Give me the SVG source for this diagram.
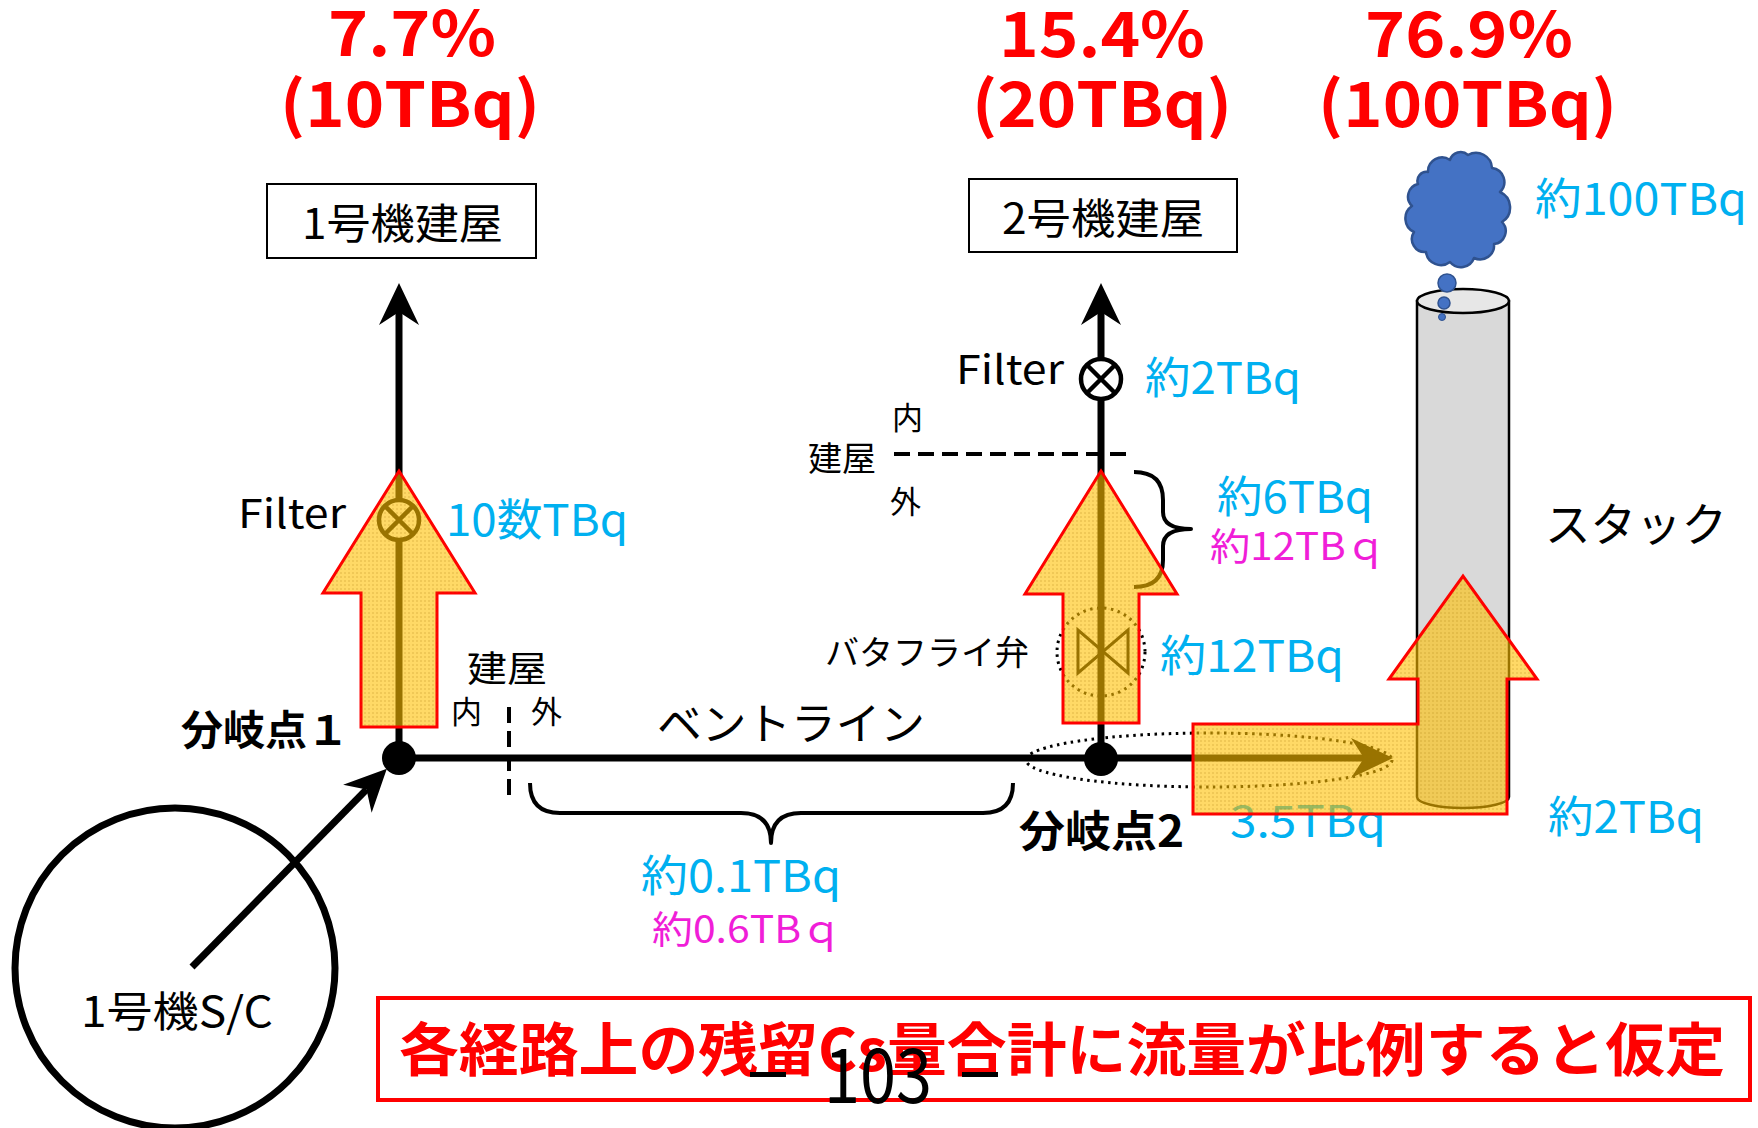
<svg xmlns="http://www.w3.org/2000/svg" width="1758" height="1128" viewBox="0 0 1758 1128">
  <style>
    text { font-family: "Noto Sans CJK JP", "Liberation Sans", sans-serif; }
    .pct { fill: #FF0000; font-weight: bold; font-size: 62px; }
    .blk { fill: #000000; }
    .blue { fill: #00B0F0; }
    .mag { fill: #F01ED8; }
    .bold { font-weight: bold; }
    .pipe { stroke: #000; stroke-width: 7; fill: none; }
    .dash { stroke: #000; stroke-width: 4; stroke-dasharray: 16 8; fill: none; }
    .brace { stroke: #000; stroke-width: 4; fill: none; stroke-linejoin: round; }
    .dotted { stroke: #000; stroke-width: 3; stroke-dasharray: 2.5 4.5; fill: none; }
    .flow { fill: #FFC000; fill-opacity: 0.6; stroke: #FF0000; stroke-width: 3; stroke-linejoin: miter; }
    .tex { fill: url(#dots); stroke: none; }
    .box { fill: #FFFFFF; stroke: #000; stroke-width: 2; }
  </style>
  <defs>
    <marker id="ah" markerUnits="userSpaceOnUse" viewBox="-44 -22 46 44" markerWidth="46" markerHeight="44" refX="-29" refY="0" orient="auto">
      <path d="M0,0 L-42,-20 L-29,0 L-42,20 Z" fill="#000"/>
    </marker>
    <pattern id="dots" width="4" height="4" patternUnits="userSpaceOnUse">
      <rect width="2" height="2" fill="#A07000" opacity="0.16"/>
    </pattern>
    <!-- translucent flow arrows -->
    <polygon id="flow1" points="399,471 475,593 437,593 437,727 361,727 361,593 323,593"/>
    <polygon id="flow2" points="1101,471 1177,594 1139,594 1139,723 1063,723 1063,594 1025,594"/>
    <polygon id="flow3" points="1193,724 1418,724 1418,679 1389,679 1463,576 1537,679 1507,679 1507,814 1193,814"/>
  </defs>

  <rect width="1758" height="1128" fill="#FFFFFF"/>

  <!-- release shares -->
  <g id="share-unit1">
    <text class="pct" x="328" y="56" textLength="168" lengthAdjust="spacingAndGlyphs">7.7%</text>
    <text class="pct" x="280" y="127" textLength="260" lengthAdjust="spacingAndGlyphs">(10TBq)</text>
  </g>
  <g id="share-unit2">
    <text class="pct" x="999" y="57" textLength="206" lengthAdjust="spacingAndGlyphs">15.4%</text>
    <text class="pct" x="972" y="127" textLength="260" lengthAdjust="spacingAndGlyphs">(20TBq)</text>
  </g>
  <g id="share-stack">
    <text class="pct" x="1365" y="57" textLength="208" lengthAdjust="spacingAndGlyphs">76.9%</text>
    <text class="pct" x="1318" y="127" textLength="299" lengthAdjust="spacingAndGlyphs">(100TBq)</text>
  </g>

  <!-- buildings -->
  <g id="bldg1">
    <rect class="box" x="267" y="184" width="269" height="74"/>
    <text class="blk" x="302" y="239" font-size="42" textLength="201" lengthAdjust="spacingAndGlyphs">1号機建屋</text>
  </g>
  <g id="bldg2">
    <rect class="box" x="969" y="179" width="268" height="73"/>
    <text class="blk" x="1002" y="234" font-size="42" textLength="202" lengthAdjust="spacingAndGlyphs">2号機建屋</text>
  </g>

  <!-- stack with plume -->
  <g id="stack">
    <path d="M1417,301 L1417,797 A46,11 0 0 0 1509,797 L1509,301 Z" fill="#D9D9D9" stroke="#000" stroke-width="2.5"/>
    <ellipse cx="1463" cy="301" rx="46" ry="12" fill="#E7E7E7" stroke="#000" stroke-width="2.5"/>
    <text class="blk" x="1545" y="541" font-size="46" textLength="182" lengthAdjust="spacingAndGlyphs">スタック</text>
  </g>
  <g id="plume">
    <path d="M1428,172 A14,14 0 0 1 1450,160 A11,11 0 0 1 1468,155 A16,16 0 0 1 1492,168 A14,14 0 0 1 1500,192 A17,17 0 0 1 1502,222 A13,13 0 0 1 1494,244 A14,14 0 0 1 1474,258 A14,14 0 0 1 1450,262 A15,15 0 0 1 1426,252 A13,13 0 0 1 1414,232 A15,15 0 0 1 1412,206 A13,13 0 0 1 1418,184 A9,9 0 0 1 1428,172 Z" fill="#4472C4" stroke="#2F528F" stroke-width="2.5" stroke-linejoin="round"/>
    <circle cx="1447" cy="283" r="9" fill="#4472C4" stroke="#2F528F" stroke-width="1.5"/>
    <circle cx="1444" cy="303" r="6" fill="#4472C4" stroke="#2F528F" stroke-width="1.5"/>
    <circle cx="1442" cy="317" r="3.5" fill="#4472C4" stroke="#2F528F" stroke-width="1"/>
    <text class="blue" x="1535" y="215" font-size="44" textLength="212" lengthAdjust="spacingAndGlyphs">約100TBq</text>
  </g>

  <!-- pipes, boundaries and braces -->
  <g id="connectors">
    <line class="pipe" x1="399" y1="758" x2="399" y2="312" marker-end="url(#ah)"/>
    <line class="pipe" x1="1101" y1="759" x2="1101" y2="312" marker-end="url(#ah)"/>
    <line class="pipe" x1="399" y1="758" x2="1364" y2="758" marker-end="url(#ah)"/>
    <line class="pipe" x1="192" y1="967" x2="366.5" y2="789.5" marker-end="url(#ah)"/>
    <line class="dash" x1="509" y1="707" x2="509" y2="802"/>
    <line class="dash" x1="894" y1="454" x2="1128" y2="454"/>
    <path class="brace" d="M530,783 Q530,813 560,813 L741,813 Q771,813 771,843 Q771,813 801,813 L983,813 Q1013,813 1013,783"/>
    <path class="brace" d="M1134,472 Q1163,472 1163,500 L1163,512 Q1163,529 1191,529 Q1163,529 1163,546 L1163,560 Q1163,587 1134,587"/>
    <ellipse class="dotted" cx="1209" cy="760" rx="183" ry="27"/>
  </g>

  <!-- suppression chamber -->
  <g id="sc">
    <circle cx="175" cy="968" r="160" fill="none" stroke="#000" stroke-width="7"/>
    <text class="blk" x="81" y="1027" font-size="42" textLength="192" lengthAdjust="spacingAndGlyphs">1号機S/C</text>
  </g>

  <!-- filters, valve, branch points -->
  <g id="filter1">
    <circle cx="399" cy="520" r="20" fill="#FFFFFF" stroke="#000" stroke-width="4.5"/>
    <path d="M385,506 L413,534 M413,506 L385,534" stroke="#000" stroke-width="4.5"/>
  </g>
  <g id="filter2">
    <circle cx="1101" cy="379" r="20" fill="#FFFFFF" stroke="#000" stroke-width="4.5"/>
    <path d="M1087,365 L1115,393 M1115,365 L1087,393" stroke="#000" stroke-width="4.5"/>
  </g>
  <g id="valve">
    <circle class="dotted" cx="1101" cy="652" r="44"/>
    <path d="M1078,630 L1078,673 L1128,630 L1128,673 Z" fill="none" stroke="#000" stroke-width="3"/>
  </g>
  <g id="branch1">
    <circle cx="399" cy="758" r="17" fill="#000"/>
  </g>
  <g id="branch2">
    <circle cx="1101" cy="759" r="17" fill="#000"/>
  </g>

  <text class="blue" x="1230" y="837" font-size="44" textLength="156" lengthAdjust="spacingAndGlyphs">3.5TBq</text>

  <!-- flow arrows -->
  <g id="flows">
    <use href="#flow1" class="flow"/><use href="#flow1" class="tex"/>
    <use href="#flow2" class="flow"/><use href="#flow2" class="tex"/>
    <use href="#flow3" class="flow"/><use href="#flow3" class="tex"/>
  </g>

  <!-- labels -->
  <g id="labels">
    <text class="blk" x="238" y="528" font-size="40" textLength="108" lengthAdjust="spacingAndGlyphs">Filter</text>
    <text class="blue" x="446" y="536" font-size="44" textLength="182" lengthAdjust="spacingAndGlyphs">10数TBq</text>
    <text class="blk" x="956" y="384" font-size="40" textLength="108" lengthAdjust="spacingAndGlyphs">Filter</text>
    <text class="blue" x="1145" y="394" font-size="44" textLength="156" lengthAdjust="spacingAndGlyphs">約2TBq</text>
    <text class="blk" x="892" y="429" font-size="31">内</text>
    <text class="blk" x="808" y="471" font-size="34" textLength="68" lengthAdjust="spacingAndGlyphs">建屋</text>
    <text class="blk" x="890" y="513" font-size="31">外</text>
    <text class="blue" x="1217" y="513" font-size="44" textLength="156" lengthAdjust="spacingAndGlyphs">約6TBq</text>
    <text class="mag" x="1210" y="560" font-size="38" textLength="176" lengthAdjust="spacingAndGlyphs">約12TBｑ</text>
    <text class="blk" x="825" y="665" font-size="34" textLength="204" lengthAdjust="spacingAndGlyphs">バタフライ弁</text>
    <text class="blue" x="1160" y="672" font-size="44" textLength="184" lengthAdjust="spacingAndGlyphs">約12TBq</text>
    <text class="blk" x="467" y="682" font-size="36" textLength="80" lengthAdjust="spacingAndGlyphs">建屋</text>
    <text class="blk" x="451" y="723" font-size="31">内</text>
    <text class="blk" x="531" y="723" font-size="31">外</text>
    <text class="blk bold" x="181" y="745" font-size="41" textLength="168" lengthAdjust="spacingAndGlyphs">分岐点１</text>
    <text class="blk bold" x="1019" y="847" font-size="43" textLength="165" lengthAdjust="spacingAndGlyphs">分岐点2</text>
    <text class="blk" x="657" y="740" font-size="44" textLength="268" lengthAdjust="spacingAndGlyphs">ベントライン</text>
    <text class="blue" x="641" y="892" font-size="44" textLength="200" lengthAdjust="spacingAndGlyphs">約0.1TBq</text>
    <text class="mag" x="652" y="943" font-size="38" textLength="190" lengthAdjust="spacingAndGlyphs">約0.6TBｑ</text>
    <text class="blue" x="1548" y="833" font-size="44" textLength="156" lengthAdjust="spacingAndGlyphs">約2TBq</text>
  </g>

  <!-- assumption note -->
  <g id="note">
    <rect x="378" y="998" width="1372" height="102" fill="#FFFFFF" stroke="#FF0000" stroke-width="4"/>
    <text x="399" y="1071" font-size="58" font-weight="bold" fill="#FF0000" textLength="1326" lengthAdjust="spacingAndGlyphs">各経路上の残留Cs量合計に流量が比例すると仮定</text>
  </g>

  <!-- page number -->
  <g id="page-no">
    <rect x="750" y="1072" width="36" height="5" fill="#000"/>
    <text x="824" y="1103" font-family="Liberation Sans, sans-serif" font-size="76" fill="#000" textLength="108" lengthAdjust="spacingAndGlyphs">103</text>
    <rect x="962" y="1072" width="36" height="5" fill="#000"/>
  </g>
</svg>
